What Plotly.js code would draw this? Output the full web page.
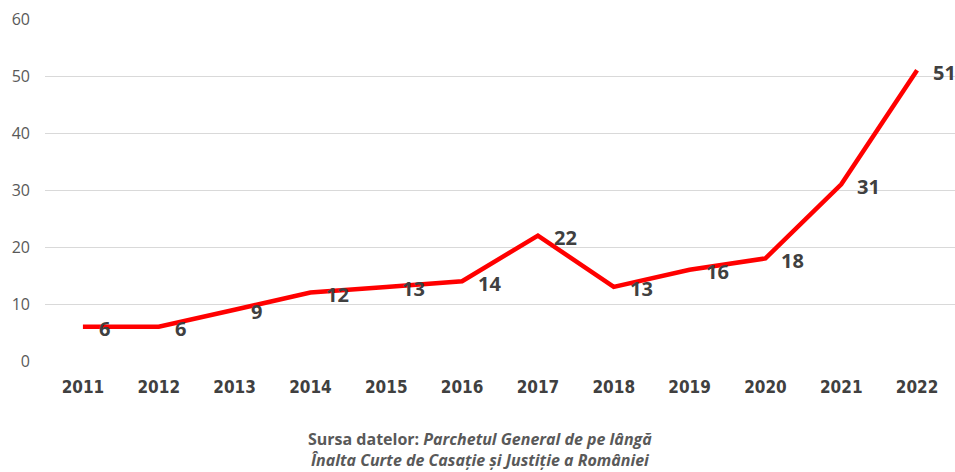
<!DOCTYPE html>
<html>
<head>
<meta charset="utf-8">
<script src="https://cdn.plot.ly/plotly-3.0.1.min.js"></script>
<style>html,body{margin:0;padding:0;background:#fff;}#chart{width:955px;height:472px;}</style>
</head>
<body>
<div id="chart"></div>
<script>
const years = ['2011','2012','2013','2014','2015','2016','2017','2018','2019','2020','2021','2022'];
const values = [6, 6, 9, 12, 13, 14, 22, 13, 16, 18, 31, 51];
const yTicks = [0, 10, 20, 30, 40, 50, 60];
const sourceText = '<b>Sursa datelor: <i>Parchetul General de pe lângă</i></b><br><b><i>Înalta Curte de Casație și Justiție a României</i></b>';

const trace = {
  x: years, y: values, type: 'scatter', mode: 'lines',
  line: {color: '#FF0000', width: 4.5},
  hoverinfo: 'skip'
};

const annotations = years.map((yr, i) => ({
  x: i, y: values[i], xref: 'x', yref: 'y',
  text: '<b>' + values[i] + '</b>', showarrow: false,
  xanchor: 'left', yanchor: 'middle', xshift: 14, yshift: -2,
  font: {family: 'Open Sans, DejaVu Sans, sans-serif', size: 20, color: '#404040'}
}));
annotations.push({
  xref: 'paper', yref: 'paper', x: 0.478, y: -0.19, xanchor: 'center', yanchor: 'top',
  text: sourceText, showarrow: false, align: 'center',
  font: {family: 'Open Sans, DejaVu Sans, sans-serif', size: 16, color: '#595959'}
});

const layout = {
  width: 955, height: 472,
  margin: {l: 45, r: 0, t: 19, b: 111},
  paper_bgcolor: '#fff', plot_bgcolor: '#fff',
  showlegend: false,
  xaxis: {
    type: 'category', range: [-0.5, 11.5],
    showgrid: false, zeroline: false, showline: false, ticks: '',
    tickfont: {family: 'DejaVu Sans Condensed, DejaVu Sans, sans-serif', size: 17, color: '#404040', weight: 'bold'},
    ticklabelstandoff: 14
  },
  yaxis: {
    range: [0, 60], tickvals: yTicks, ticktext: yTicks.map(String),
    showgrid: true, gridcolor: '#d9d9d9', gridwidth: 1,
    zeroline: false, showline: false, ticks: '',
    tickfont: {family: 'Open Sans, DejaVu Sans, sans-serif', size: 16, color: '#595959'},
    ticklabelstandoff: 14
  },
  annotations: annotations
};

Plotly.newPlot('chart', [trace], layout, {displayModeBar: false, staticPlot: true});
</script>
</body>
</html>
